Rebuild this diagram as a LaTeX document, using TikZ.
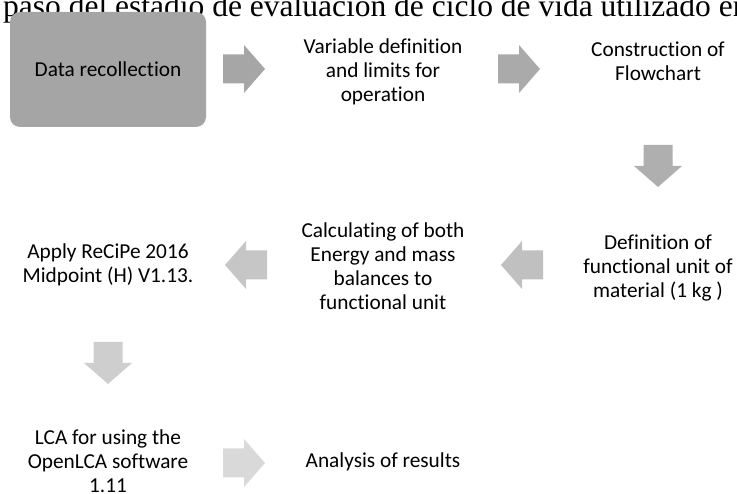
\documentclass[tikz,border=0pt]{standalone}
\usepackage{fontspec}
\newfontfamily\carlito[Ligatures=NoCommon]{Carlito}
\newfontfamily\titlefont{Liberation Serif}
\definecolor{boxgray}{HTML}{A5A5A5}
\definecolor{arA}{HTML}{A6A6A6}
\definecolor{arB}{HTML}{AAAAAA}
\definecolor{arC}{HTML}{AFAFAF}
\definecolor{arD}{HTML}{C0C0C0}
\definecolor{arE}{HTML}{C6C6C6}
\definecolor{arF}{HTML}{CECECE}
\definecolor{arG}{HTML}{D9D9D9}
\tikzset{
  x=1pt, y=-1pt,
  steptext/.style={align=center, inner sep=0pt, font=\carlito\fontsize{21.3}{24}\selectfont, text=black},
  databox/.style={fill=boxgray, draw=none, rounded corners=10pt, minimum width=196pt, minimum height=115pt, inner sep=0pt},
  blockarrow/.pic={\fill (-21,-14.5) -- (0,-14.5) -- (0,-24) -- (21,0) -- (0,24) -- (0,14.5) -- (-21,14.5) -- cycle;}
}
\begin{document}
\begin{tikzpicture}
\useasboundingbox (0,0) rectangle (737,494);
\begin{scope}
\clip (0,0) rectangle (737,494);
\node[anchor=base west, inner sep=0pt, font=\titlefont\fontsize{31.5}{36}\selectfont] (title) at (3,16.5) {paso del estadio de evaluación de ciclo de vida utilizado en la investigación};
\node[databox, steptext] (data) at (108,69.5) {Data recollection};
\pic[fill=arA] (a1) at (244,69) {blockarrow};
\node[steptext] (var) at (383,72) {Variable definition\\and limits for\\operation};
\pic[fill=arB] (a2) at (519,69) {blockarrow};
\node[steptext] (flow) at (658,61) {Construction of\\Flowchart};
\pic[fill=arC, rotate=-90] (d1) at (658,166) {blockarrow};
\node[steptext] (func) at (658,268) {Definition of\\functional unit of\\material (1 kg )};
\pic[fill=arD, rotate=180] (a3) at (522,265) {blockarrow};
\node[steptext] (calc) at (383,266) {Calculating of both\\Energy and mass\\balances to\\functional unit};
\pic[fill=arE, rotate=180] (a4) at (246,265) {blockarrow};
\node[steptext] (apply) at (108,265) {Apply ReCiPe 2016\\Midpoint (H) V1.13.};
\pic[fill=arF, rotate=-90] (d2) at (108,363) {blockarrow};
\node[steptext] (lca) at (108,461) {LCA for using the\\OpenLCA software\\1.11};
\pic[fill=arG] (a5) at (244,463) {blockarrow};
\node[steptext] (res) at (383,462) {Analysis of results};
\end{scope}
\end{tikzpicture}
\end{document}
